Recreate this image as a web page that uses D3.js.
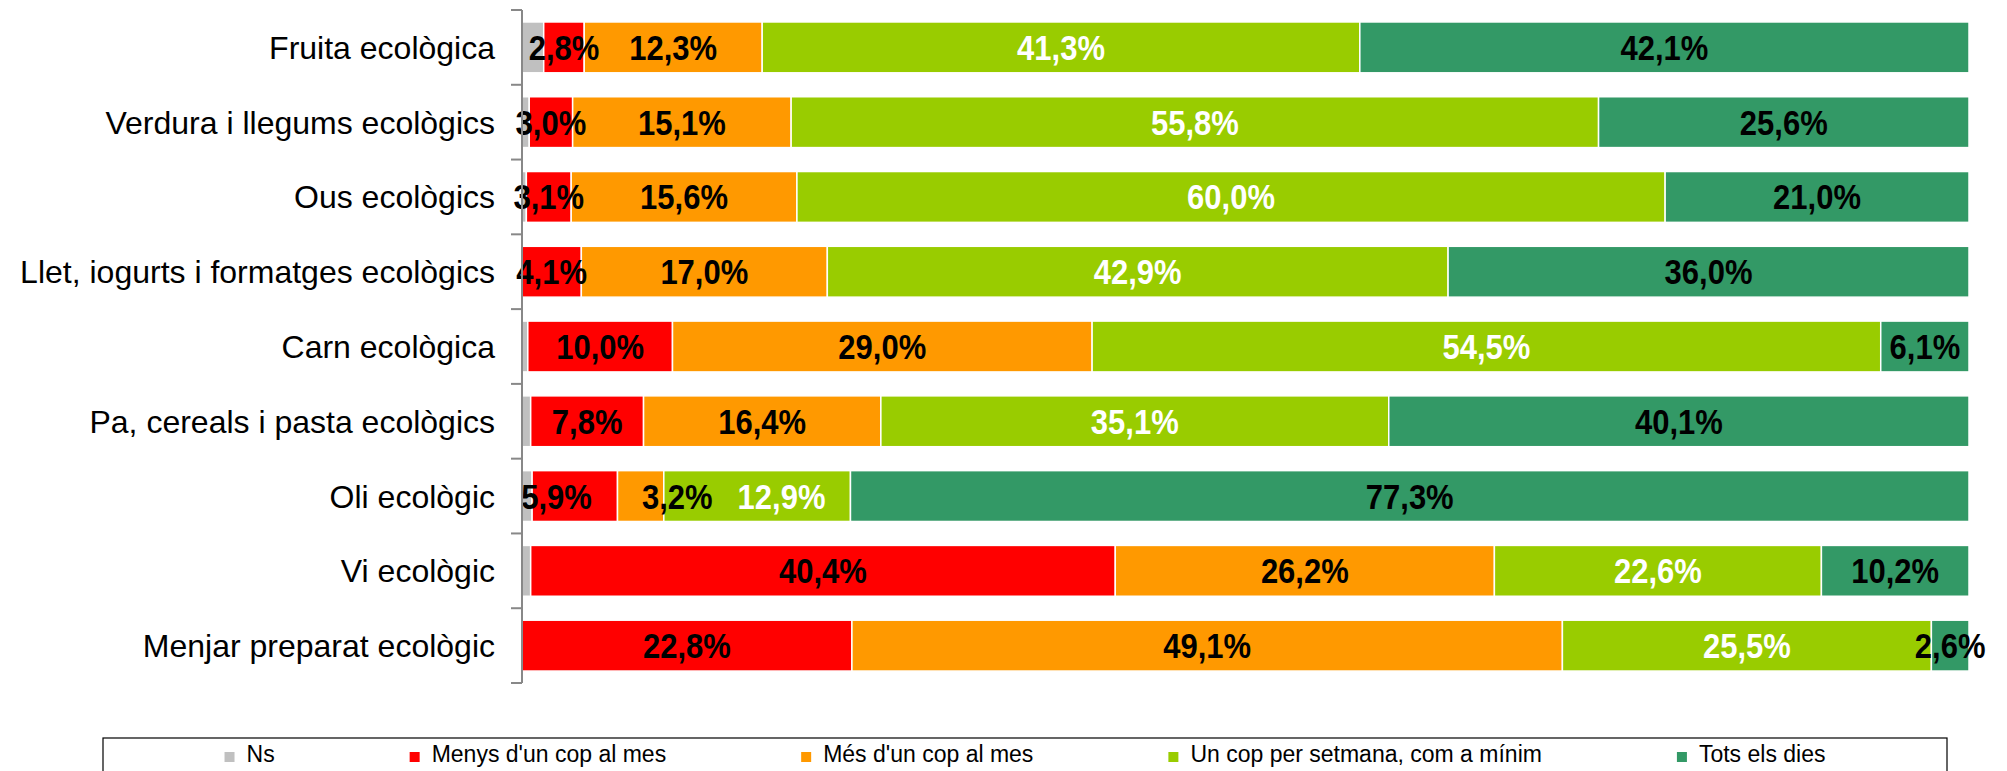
<!DOCTYPE html>
<html>
<head>
<meta charset="utf-8">
<script src="https://cdn.jsdelivr.net/npm/d3@7"></script>
<style>
  body { margin: 0; background: #fff; }
  text { font-family: "Liberation Sans", Arial, sans-serif; }
</style>
</head>
<body>
<svg width="2007" height="771"></svg>
<script>
// categories, top to bottom
var categories = [
  'Fruita ecològica',
  'Verdura i llegums ecològics',
  'Ous ecològics',
  'Llet, iogurts i formatges ecològics',
  'Carn ecològica',
  'Pa, cereals i pasta ecològics',
  'Oli ecològic',
  'Vi ecològic',
  'Menjar preparat ecològic'
];
var seriesNames = ['Ns', "Menys d'un cop al mes", "Més d'un cop al mes",
                   'Un cop per setmana, com a mínim', 'Tots els dies'];
var colors = ['#C0C0C0', '#FF0000', '#FF9900', '#99CC00', '#339966'];
var labelColors = ['#000', '#000', '#000', '#fff', '#000'];

// values in %, one array per series (Ns not labelled)
var ns     = [1.5, 0.5, 0.3, 0.0, 0.4, 0.6, 0.7, 0.6, 0.0];
var menys  = [2.8, 3.0, 3.1, 4.1, 10.0, 7.8, 5.9, 40.4, 22.8];
var mes    = [12.3, 15.1, 15.6, 17.0, 29.0, 16.4, 3.2, 26.2, 49.1];
var setman = [41.3, 55.8, 60.0, 42.9, 54.5, 35.1, 12.9, 22.6, 25.5];
var tots   = [42.1, 25.6, 21.0, 36.0, 6.1, 40.1, 77.3, 10.2, 2.6];

var series = [ns, menys, mes, setman, tots];

var svg = d3.select('svg');

var x = d3.scaleLinear().domain([0, 100]).range([522, 1969]);
var y = d3.scaleBand()
  .domain(categories)
  .range([10, 683])
  .paddingInner(0.32)
  .paddingOuter(0.16);

// build stacked table
var rows = categories.map(function(c, i) {
  var r = { cat: c };
  seriesNames.forEach(function(s, j) { r[s] = series[j][i]; });
  return r;
});
var stack = d3.stack().keys(seriesNames)(rows);

var layers = svg.append('g').selectAll('g')
  .data(stack)
  .enter().append('g')
  .attr('fill', function(d, i) { return colors[i]; });

layers.selectAll('rect')
  .data(function(d) { return d; })
  .enter().append('rect')
  .attr('x', function(d) { return x(d[0]); })
  .attr('y', function(d) { return y(d.data.cat); })
  .attr('width', function(d) { return Math.max(0, x(d[1]) - x(d[0])); })
  .attr('height', y.bandwidth())
  .attr('stroke', '#fff')
  .attr('stroke-width', 1.5);

// value labels
var labels = [];
stack.forEach(function(layer, i) {
  if (i === 0) return;
  layer.forEach(function(d, r) {
    labels.push({
      row: r, s: i,
      cx: (x(d[0]) + x(d[1])) / 2,
      cy: y(d.data.cat) + y.bandwidth() / 2,
      txt: (d[1] - d[0]).toFixed(1).replace('.', ',') + '%'
    });
  });
});

var lab = svg.append('g').selectAll('text')
  .data(labels)
  .enter().append('text')
  .attr('dy', '0.36em')
  .attr('text-anchor', 'middle')
  .attr('font-size', 31)
  .attr('font-weight', 'bold')
  .attr('fill', function(d) { return labelColors[d.s]; })
  .text(function(d) { return d.txt; })
  .each(function(d) { d.w = this.getComputedTextLength(); });

// push overlapping labels apart (like the spreadsheet does)
categories.forEach(function(c, r) {
  var inRow = labels.filter(function(d) { return d.row === r; });
  var moved = false;
  for (var k = 1; k < inRow.length; k++) {
    var a = inRow[k - 1], b = inRow[k];
    var over = (a.cx + a.w / 2) - (b.cx - b.w / 2);
    if (over > 0) {
      var sep = over + 50;
      a.cx -= sep / 3;
      b.cx += sep * 2 / 3;
      moved = true;
    } else if (moved && over > -25) {
      b.cx += over + 25;
    }
  }
});

lab.attr('transform', function(d) {
  return 'translate(' + d.cx + ',' + d.cy + ') scale(1,1.12)';
});

// vertical axis with ticks between categories
var step = y.step();
var ax = svg.append('g').attr('stroke', '#888').attr('stroke-width', 2);
ax.append('line').attr('x1', 522).attr('x2', 522).attr('y1', 10).attr('y2', 683);
d3.range(categories.length + 1).forEach(function(i) {
  var ty = 10 + i * step;
  ax.append('line').attr('x1', 511).attr('x2', 522).attr('y1', ty).attr('y2', ty);
});

svg.append('g').selectAll('text')
  .data(categories)
  .enter().append('text')
  .attr('x', 495)
  .attr('y', function(d) { return y(d) + y.bandwidth() / 2; })
  .attr('dy', '0.36em')
  .attr('text-anchor', 'end')
  .attr('font-size', 32)
  .attr('fill', '#000')
  .text(function(d) { return d; });

// legend
var lg = svg.append('g');
lg.append('rect')
  .attr('x', 103).attr('y', 738).attr('width', 1844).attr('height', 80)
  .attr('fill', 'none').attr('stroke', '#000').attr('stroke-width', 1.2);

var items = lg.selectAll('g.item')
  .data(seriesNames)
  .enter().append('g').attr('class', 'item');
items.append('rect')
  .attr('width', 10).attr('height', 10).attr('y', 752)
  .attr('fill', function(d, i) { return colors[i]; });
items.append('text')
  .attr('y', 762)
  .attr('font-size', 23)
  .attr('fill', '#000')
  .text(function(d) { return d; });

var gap = 135, widths = [];
items.select('text').each(function() { widths.push(this.getComputedTextLength() + 22); });
var total = d3.sum(widths) + gap * (widths.length - 1);
var cx = 103 + 1844 / 2 - total / 2;
items.each(function(d, i) {
  var g = d3.select(this);
  g.select('rect').attr('x', cx);
  g.select('text').attr('x', cx + 22);
  cx += widths[i] + gap;
});
</script>
</body>
</html>
